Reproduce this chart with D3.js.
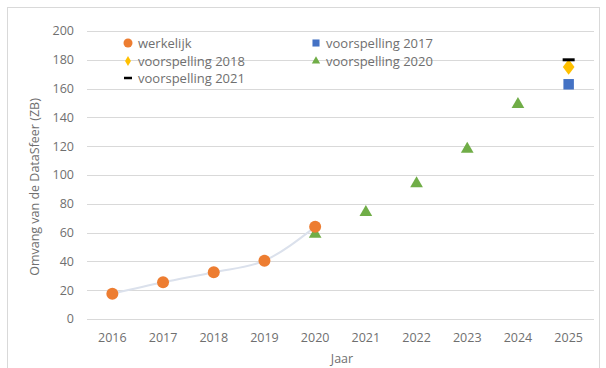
<!DOCTYPE html>
<html>
<head>
<meta charset="utf-8">
<script src="https://cdn.jsdelivr.net/npm/d3@7"></script>
<style>
  body { margin: 0; background: #fff; }
  text { font-family: "Open Sans", "Liberation Sans", sans-serif; fill: #6f6f6f; }
</style>
</head>
<body>
<div id="chart"></div>
<script>
const width = 606;
const height = 368;
const marginTop = 31;
const marginRight = 12;
const marginBottom = 49;
const marginLeft = 87;

const years = ["2016", "2017", "2018", "2019", "2020", "2021", "2022", "2023", "2024", "2025"];
const yTicks = [0, 20, 40, 60, 80, 100, 120, 140, 160, 180, 200];

const werkelijk = [
  { year: "2016", value: 17.5 },
  { year: "2017", value: 25.5 },
  { year: "2018", value: 32.5 },
  { year: "2019", value: 40.5 },
  { year: "2020", value: 64 }
];
const voorspelling2017 = [{ year: "2025", value: 163 }];
const voorspelling2018 = [{ year: "2025", value: 175 }];
const voorspelling2020 = [
  { year: "2020", value: 59 },
  { year: "2021", value: 74 },
  { year: "2022", value: 94 },
  { year: "2023", value: 118 },
  { year: "2024", value: 149 }
];
const voorspelling2021 = [{ year: "2025", value: 180 }];

const x = d3.scaleBand()
    .domain(years)
    .range([marginLeft, width - marginRight]);
const y = d3.scaleLinear()
    .domain([0, 200])
    .range([height - marginBottom, marginTop]);
const cx = d => x(d.year) + x.bandwidth() / 2;

const svg = d3.select("#chart")
  .append("svg")
    .attr("width", width)
    .attr("height", height);

// chart border
svg.append("rect")
    .attr("x", 7.5).attr("y", 7.5)
    .attr("width", width - 14).attr("height", height)
    .attr("fill", "none")
    .attr("stroke", "#d9d9d9");

// gridlines + y labels
svg.append("g")
  .selectAll("line")
  .data(yTicks)
  .join("line")
    .attr("x1", marginLeft).attr("x2", width - marginRight)
    .attr("y1", d => Math.round(y(d)) + 0.5).attr("y2", d => Math.round(y(d)) + 0.5)
    .attr("stroke", "#d9d9d9");

svg.append("g")
  .selectAll("text")
  .data(yTicks)
  .join("text")
    .attr("x", marginLeft - 13)
    .attr("y", d => y(d))
    .attr("dy", "0.35em")
    .attr("text-anchor", "end")
    .attr("font-size", 12.5)
    .text(d => d);

// x labels
svg.append("g")
  .selectAll("text")
  .data(years)
  .join("text")
    .attr("x", d => x(d) + x.bandwidth() / 2)
    .attr("y", height - marginBottom + 23)
    .attr("text-anchor", "middle")
    .attr("font-size", 12.5)
    .text(d => d);

// axis titles
svg.append("text")
    .attr("x", 342)
    .attr("y", 363)
    .attr("text-anchor", "middle")
    .attr("font-size", 12.5)
    .text("Jaar");

svg.append("text")
    .attr("transform", `translate(39,${(marginTop + height - marginBottom) / 2 + 12}) rotate(-90)`)
    .attr("text-anchor", "middle")
    .attr("font-size", 12.5)
    .text("Omvang van de DataSfeer (ZB)");

// werkelijk trend line
const line = d3.line()
    .x(cx)
    .y(d => y(d.value))
    .curve(d3.curveMonotoneX);

svg.append("path")
    .datum(werkelijk)
    .attr("fill", "none")
    .attr("stroke", "#dbe1ec")
    .attr("stroke-width", 2)
    .attr("d", line);

// markers
const triangle = d3.symbol().type(d3.symbolTriangle).size(70);
const square = d3.symbol().type(d3.symbolSquare).size(110);
const diamond = d3.symbol().type(d3.symbolDiamond).size(70);

svg.append("g")
  .selectAll("path")
  .data(voorspelling2020)
  .join("path")
    .attr("transform", d => `translate(${cx(d)},${y(d.value)})`)
    .attr("d", triangle)
    .attr("fill", "#70ad47");

svg.append("g")
  .selectAll("circle")
  .data(werkelijk)
  .join("circle")
    .attr("cx", cx)
    .attr("cy", d => y(d.value))
    .attr("r", 6)
    .attr("fill", "#ed7d31");

svg.append("g")
  .selectAll("path")
  .data(voorspelling2017)
  .join("path")
    .attr("transform", d => `translate(${cx(d)},${y(d.value)})`)
    .attr("d", square)
    .attr("fill", "#4472c4");

svg.append("g")
  .selectAll("path")
  .data(voorspelling2018)
  .join("path")
    .attr("transform", d => `translate(${cx(d)},${y(d.value)}) scale(1.3,1)`)
    .attr("d", diamond)
    .attr("fill", "#ffc000");

svg.append("g")
  .selectAll("line")
  .data(voorspelling2021)
  .join("line")
    .attr("x1", d => cx(d) - 6).attr("x2", d => cx(d) + 6)
    .attr("y1", d => y(d.value)).attr("y2", d => y(d.value))
    .attr("stroke", "#000")
    .attr("stroke-width", 3);

// legend
const legend = [
  { label: "werkelijk", kind: "circle", color: "#ed7d31", x: 128, y: 43 },
  { label: "voorspelling 2017", kind: "square", color: "#4472c4", x: 316, y: 43 },
  { label: "voorspelling 2018", kind: "diamond", color: "#ffc000", x: 128, y: 61 },
  { label: "voorspelling 2020", kind: "triangle", color: "#70ad47", x: 316, y: 61 },
  { label: "voorspelling 2021", kind: "dash", color: "#000", x: 128, y: 78 }
];

const lg = svg.append("g")
  .selectAll("g")
  .data(legend)
  .join("g")
    .attr("transform", d => `translate(${d.x},${d.y})`);

lg.each(function(d) {
  const g = d3.select(this);
  if (d.kind === "circle") g.append("circle").attr("r", 4.5).attr("fill", d.color);
  if (d.kind === "square") g.append("path").attr("d", d3.symbol().type(d3.symbolSquare).size(50)).attr("fill", d.color);
  if (d.kind === "diamond") g.append("path").attr("d", d3.symbol().type(d3.symbolDiamond).size(30)).attr("fill", d.color);
  if (d.kind === "triangle") g.append("path").attr("d", d3.symbol().type(d3.symbolTriangle).size(30)).attr("fill", d.color);
  if (d.kind === "dash") g.append("line").attr("x1", -4).attr("x2", 4).attr("stroke", d.color).attr("stroke-width", 2.5);
});

lg.append("text")
    .attr("x", 10)
    .attr("dy", "0.35em")
    .attr("font-size", 13)
    .text(d => d.label);
</script>
</body>
</html>
